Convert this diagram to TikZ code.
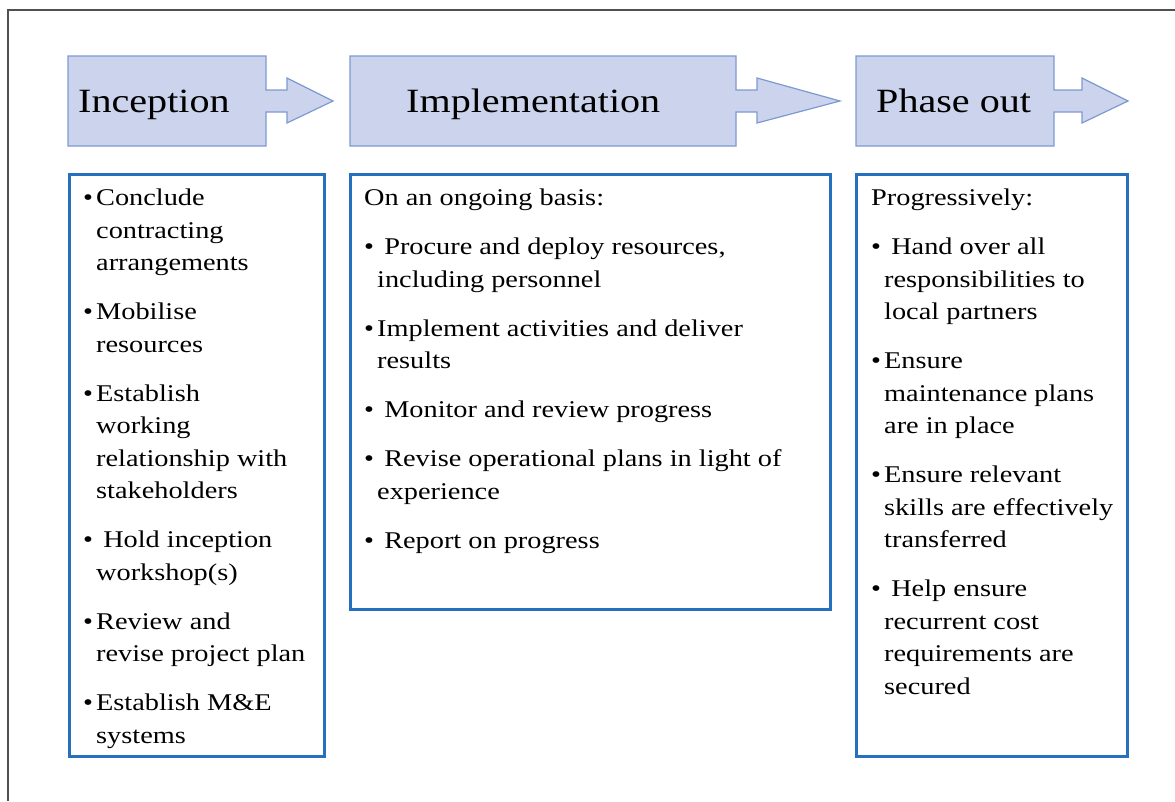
\documentclass[tikz,border=0pt]{standalone}
\usepackage{fontspec}
\setmainfont{Liberation Serif}[FakeStretch=1.18]
\definecolor{headfill}{RGB}{203,212,236}
\definecolor{headline}{RGB}{125,153,210}
\definecolor{panelblue}{RGB}{38,112,190}
\definecolor{framegray}{RGB}{80,80,80}
\newcommand\bl{\makebox[13pt][l]{•}}
\newcommand\ind{\hspace*{13pt}}
\begin{document}
\begin{tikzpicture}[x=1pt,y=-1pt,
	phase/.style={fill=headfill,draw=headline,line width=1.2pt},
	title/.style={anchor=base west,inner sep=0,font=\fontsize{34}{40}\selectfont},
	panel/.style={draw=panelblue,line width=3pt,anchor=north west,outer sep=0,inner sep=0},
	items/.style={anchor=north west,inner sep=0,align=left,
		font=\fontsize{24}{32.5}\selectfont}]
	\useasboundingbox (0,0) rectangle (1175,801);
	\draw[framegray,line width=1.5pt] (8,801) -- (8,10) -- (1175,10);
	
	% phase headers
	\filldraw[phase] (68,56) -- (266,56) -- (266,90) -- (287,90) -- (287,78) 
	-- (333,101) -- (287,123) -- (287,112) -- (266,112) -- (266,146) 
	-- (68,146) -- cycle;
	\filldraw[phase] (350,56) -- (736,56) -- (736,90) -- (757,90) -- (757,78) 
	-- (840,101) -- (757,123) -- (757,112) -- (736,112) -- (736,146) 
	-- (350,146) -- cycle;
	\filldraw[phase] (856,56) -- (1054,56) -- (1054,90) -- (1082,90) -- (1082,78) 
	-- (1128,101) -- (1082,123) -- (1082,112) -- (1054,112) -- (1054,146) 
	-- (856,146) -- cycle;
	\node[title] (inc) at (78,112) {Inception};
	\node[title] (impl) at (406,112) {Implementation};
	\node[title] (phout) at (876,112) {Phase out};
	
	% panels
	\node[panel,minimum width=255pt,minimum height=582pt] (incbox) at (69,174) {};
	\node[panel,minimum width=480pt,minimum height=435pt] (implbox) at (350,174) {};
	\node[panel,minimum width=271pt,minimum height=582pt] (phbox) at (856,174) {};
	
	\node[items] (inctext) at (83,183) {\strut\bl Conclude\\
		\ind contracting\\
		\ind arrangements\\[16.5pt]
		\bl Mobilise\\
		\ind resources\\[16.5pt]
		\bl Establish\\
		\ind working\\
		\ind relationship with\\
		\ind stakeholders\\[16.5pt]
		\bl\ Hold inception\\
		\ind workshop(s)\\[16.5pt]
		\bl Review and\\
		\ind revise project plan\\[16.5pt]
		\bl Establish M\&E\\
		\ind systems};
	
	\node[items] (impltext) at (364,183) {\strut On an ongoing basis:\\[16.5pt]
		\bl\ Procure and deploy resources,\\
		\ind including personnel\\[16.5pt]
		\bl Implement activities and deliver\\
		\ind results\\[16.5pt]
		\bl\ Monitor and review progress\\[16.5pt]
		\bl\ Revise operational plans in light of\\
		\ind experience\\[16.5pt]
		\bl\ Report on progress};
	
	\node[items] (phtext) at (871,183) {\strut Progressively:\\[16.5pt]
		\bl\ Hand over all\\
		\ind responsibilities to\\
		\ind local partners\\[16.5pt]
		\bl Ensure\\
		\ind maintenance plans\\
		\ind are in place\\[16.5pt]
		\bl Ensure relevant\\
		\ind skills are effectively\\
		\ind transferred\\[16.5pt]
		\bl\ Help ensure\\
		\ind recurrent cost\\
		\ind requirements are\\
		\ind secured};
\end{tikzpicture}
\end{document}
